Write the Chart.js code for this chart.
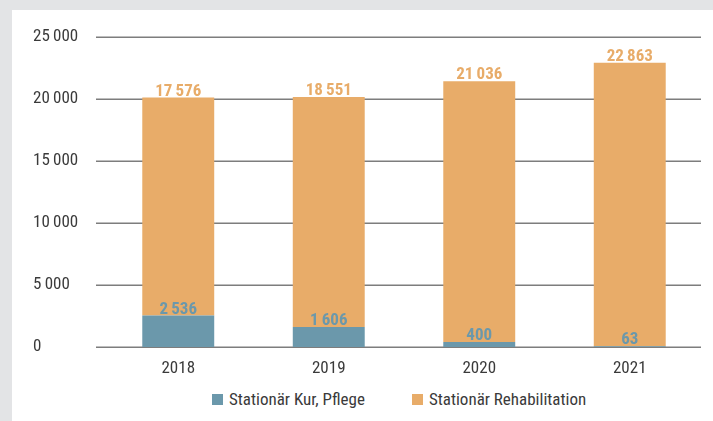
<!DOCTYPE html>
<html>
<head>
<meta charset="utf-8">
<script src="https://cdn.jsdelivr.net/npm/chart.js@4"></script>
<style>
  html, body { margin: 0; padding: 0; }
  body { width: 713px; height: 421px; background: #e3e4e6; position: relative; overflow: hidden;
         font-family: "Roboto Condensed", "DejaVu Sans Condensed", sans-serif; }
  #panel { position: absolute; left: 12px; top: 10px; right: 0; bottom: 0; background: #fff; }
  #wrap { position: absolute; left: 0; top: 0; width: 701px; height: 375px; }
  #legend { position: absolute; left: 200px; top: 379px; display: flex; gap: 47px;
            font-size: 17px; color: #3a3a3a; }
  .item { display: flex; align-items: center; }
  .box { width: 11px; height: 11px; margin-right: 6px; }
</style>
</head>
<body>
<div id="panel">
  <div id="wrap"><canvas id="chart"></canvas></div>
  <div id="legend"></div>
</div>
<script>
const years = ['2018', '2019', '2020', '2021'];
const kurPflege = [2536, 1606, 400, 63];
const rehabilitation = [17576, 18551, 21036, 22863];
const seriesNames = ['Stationär Kur, Pflege', 'Stationär Rehabilitation'];
const seriesColors = ['#6b98ab', '#e8ac69'];

const FONT = '"Roboto Condensed", "DejaVu Sans Condensed", sans-serif';

// 17576 -> "17 576" with a thin space
function fmt(v) {
  return String(v).replace(/\B(?=(\d{3})+(?!\d))/g, '\u2009');
}

const gridLines = {
  id: 'gridLines',
  beforeDatasetsDraw(chart) {
    const { ctx, chartArea, scales } = chart;
    ctx.save();
    ctx.strokeStyle = '#7d7d7d';
    ctx.lineWidth = 1.5;
    scales.y.ticks.forEach((t) => {
      const y = Math.round(scales.y.getPixelForValue(t.value)) + 0.25;
      ctx.beginPath();
      ctx.moveTo(chartArea.left - 7, y);
      ctx.lineTo(chartArea.right - 4, y);
      ctx.stroke();
    });
    ctx.restore();
  },
};

const valueLabels = {
  id: 'valueLabels',
  afterDatasetsDraw(chart) {
    const { ctx } = chart;
    ctx.save();
    ctx.font = 'bold 17px ' + FONT;
    ctx.textAlign = 'center';
    ctx.textBaseline = 'alphabetic';
    chart.data.datasets.forEach((ds, i) => {
      ctx.fillStyle = ds.backgroundColor;
      chart.getDatasetMeta(i).data.forEach((bar, j) => {
        ctx.fillText(fmt(ds.data[j]), bar.x, bar.y - 2);
      });
    });
    ctx.restore();
  },
};

const ctx = document.getElementById('chart').getContext('2d');
const chart = new Chart(ctx, {
  type: 'bar',
  data: {
    labels: years,
    datasets: [
      { label: seriesNames[0], data: kurPflege, backgroundColor: seriesColors[0] },
      { label: seriesNames[1], data: rehabilitation, backgroundColor: seriesColors[1] },
    ],
  },
  options: {
    responsive: true,
    maintainAspectRatio: false,
    animation: false,
    events: [],
    layout: { padding: { left: 21, right: 8, top: 27, bottom: 8 } },
    datasets: { bar: { categoryPercentage: 1, barPercentage: 0.478 } },
    plugins: { legend: { display: false }, tooltip: { enabled: false } },
    scales: {
      x: {
        stacked: true,
        border: { display: false },
        grid: { display: false },
        ticks: { color: '#3a3a3a', font: { family: FONT, size: 17 }, padding: 4 },
        afterFit: (s) => { s.height = 30; },
      },
      y: {
        stacked: true,
        min: 0,
        max: 25000,
        border: { display: false },
        grid: { display: false },
        ticks: {
          stepSize: 5000,
          crossAlign: 'far',
          color: '#3a3a3a',
          font: { family: FONT, size: 17 },
          callback: (v) => fmt(v),
        },
        afterFit: (s) => { s.width = 70; },
      },
    },
  },
  plugins: [gridLines, valueLabels],
});

const legend = document.getElementById('legend');
chart.data.datasets.forEach((ds) => {
  const item = document.createElement('div');
  item.className = 'item';
  const box = document.createElement('span');
  box.className = 'box';
  box.style.background = ds.backgroundColor;
  const txt = document.createElement('span');
  txt.textContent = ds.label;
  item.appendChild(box);
  item.appendChild(txt);
  legend.appendChild(item);
});
</script>
</body>
</html>
